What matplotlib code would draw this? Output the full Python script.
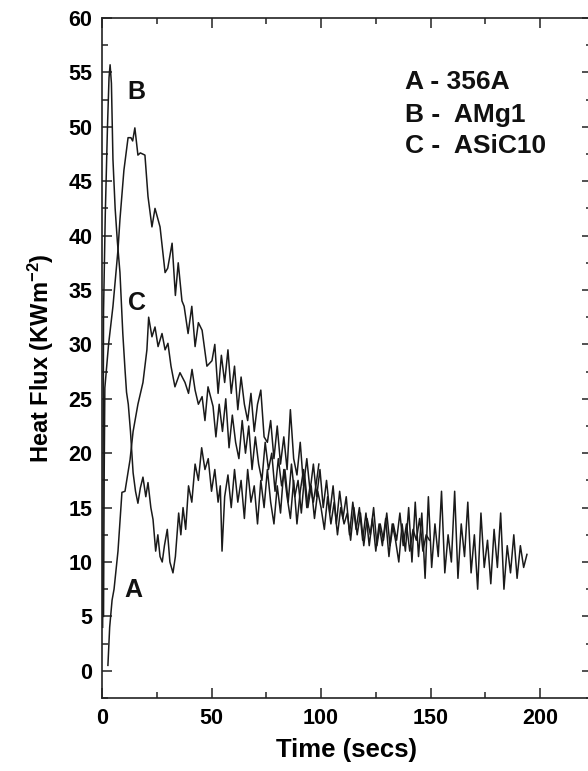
import matplotlib
matplotlib.use("Agg")
import matplotlib.pyplot as plt
from matplotlib.ticker import MultipleLocator

plt.rcParams['font.family'] = ['Liberation Sans', 'DejaVu Sans']
plt.rcParams['font.weight'] = 'bold'
plt.rcParams['mathtext.fontset'] = 'custom'
plt.rcParams['mathtext.rm'] = 'Liberation Sans:bold'
plt.rcParams['mathtext.bf'] = 'Liberation Sans:bold'
plt.rcParams['mathtext.default'] = 'bf'

# ---- data ----
# Curve with the early 55 spike
t_spike = [0.3, 0.5, 0.7, 1.5, 2.5, 3.2, 3.7, 4.3, 5.0, 6.0, 7.0, 8.2, 9.5, 10.5, 11.2, 12.0,
           13.0, 14.2, 15.3, 16.4, 17.5, 18.7, 20.0, 21.0, 22.3, 23.3, 24.5, 25.5, 26.5, 27.5,
           28.5, 29.8, 31.0, 32.4, 33.5, 35.0, 36.0, 37.0, 38.2, 39.5, 41.0, 42.5, 44.0, 45.5,
           47.0, 48.5, 50.0, 51.5, 53.0, 54.0, 54.8, 56.0, 57.5, 59.0, 60.5, 62.0, 63.5, 65.0,
           66.5, 68.0, 69.5, 71.0, 72.5, 74.0, 75.5, 77.0, 78.5, 80.0, 81.5, 83.0, 84.5, 86.0,
           87.5, 89.0, 90.5, 92.0, 93.5, 95.0, 96.5, 98.0, 99.0]
v_spike = [4.0, 18.0, 33.0, 42.0, 50.0, 54.5, 55.7, 54.0, 47.0, 42.5, 39.5, 36.6, 31.0, 27.7, 25.6, 24.5,
           22.0, 18.2, 16.5, 15.4, 16.8, 17.8, 16.0, 17.3, 15.0, 13.9, 11.0, 12.5, 10.5, 10.0,
           11.5, 13.0, 10.0, 9.0, 10.5, 14.5, 12.5, 15.0, 13.0, 17.0, 15.5, 19.0, 17.5, 20.5,
           18.5, 19.5, 16.5, 18.5, 15.5, 17.0, 11.0, 16.0, 18.0, 15.0, 18.5, 15.5, 17.5, 14.0,
           18.5, 15.5, 17.0, 13.5, 17.5, 15.0, 18.5, 15.5, 13.5, 17.0, 14.5, 18.5, 16.0, 14.0,
           17.5, 13.5, 16.5, 18.5, 15.0, 17.0, 15.5, 17.5, 19.0]

# Curve with the ~50 peak
t_b = [0.7, 1.0, 1.3, 3.0, 5.0, 7.3, 8.2, 10.0, 11.9, 13.2, 14.0, 15.0, 16.4, 17.5, 19.6, 21.0,
       22.8, 24.2, 26.5, 28.8, 30.0, 32.0, 33.5, 34.8, 36.5, 37.5, 39.3, 41.0, 42.5, 44.0, 45.7,
       47.9, 50.2, 51.5, 53.0, 54.5, 56.0, 57.5, 59.0, 60.5, 62.0, 63.5, 65.0, 66.5, 68.0, 69.5,
       71.0, 72.5, 74.0, 75.5, 77.0, 78.5, 80.0, 81.5, 83.0, 84.5, 86.0, 87.5, 89.0, 90.5, 92.0,
       93.5, 95.0, 96.5, 98.0, 99.5, 101.0, 102.5, 104.0, 105.5, 107.0, 108.5, 110.0, 111.5,
       113.0, 114.5, 116.0, 117.5, 119.0, 120.5, 122.0, 123.5, 125.0, 126.5, 128.0, 129.5,
       131.0, 132.5, 134.0, 135.5, 137.0, 138.5, 140.0, 141.5, 143.0, 144.5, 146.0, 147.5,
       149.0, 150.5, 152.0, 153.5, 155.0, 156.5, 158.0, 159.5, 161.0, 162.5, 164.0, 165.5,
       167.0, 168.5, 170.0, 171.5, 173.0, 174.5, 176.0, 177.5, 179.0, 180.5, 182.0, 183.5,
       185.0, 186.5, 188.0, 189.5, 191.0, 192.5, 194.0]
v_b = [5.0, 18.0, 26.0, 30.0, 33.5, 38.7, 41.5, 46.0, 49.0, 49.0, 48.7, 49.9, 47.4, 47.6, 47.4, 43.6,
       40.8, 42.5, 40.8, 36.6, 37.0, 39.3, 34.5, 37.5, 34.0, 33.5, 31.0, 33.5, 29.8, 32.0, 31.3,
       28.0, 28.5, 30.0, 25.5, 29.0, 26.5, 29.5, 25.5, 28.0, 24.0, 27.0, 24.5, 23.0, 25.5, 22.0,
       24.5, 25.8, 21.5, 21.0, 23.0, 19.5, 22.5, 19.0, 21.5, 18.5, 24.0, 19.5, 18.0, 21.0, 17.0,
       19.5, 16.5, 19.0, 16.0, 18.5, 15.0, 17.5, 14.5, 17.0, 13.5, 16.5, 14.0, 16.0,
       12.5, 15.5, 13.0, 15.0, 12.0, 14.5, 11.5, 14.0, 11.0, 13.5, 11.5, 14.0,
       10.5, 13.5, 12.0, 10.0, 13.5, 11.0, 15.0, 10.0, 15.5, 10.5, 14.5, 8.5,
       16.0, 9.5, 13.5, 10.5, 16.5, 9.0, 12.5, 10.0, 16.5, 8.5, 13.5, 10.5,
       15.5, 9.0, 12.5, 7.5, 14.5, 9.5, 12.0, 8.0, 13.0, 9.5, 14.5, 7.5,
       11.5, 9.0, 12.5, 8.5, 11.5, 9.5, 10.7]

# Curve starting near zero, peaking ~32.5
t_a = [2.7, 3.5, 4.6, 5.5, 7.3, 9.1, 10.5, 12.8, 14.2, 16.4, 18.7, 20.5, 21.3, 22.8, 24.2, 25.6,
       27.4, 28.8, 30.1, 31.5, 33.3, 35.6, 37.9, 39.5, 41.1, 42.5, 44.0, 45.7, 47.0, 48.4, 50.7,
       52.0, 53.5, 55.0, 56.5, 58.0, 59.5, 61.0, 62.5, 64.0, 65.5, 67.0, 68.5, 70.0, 71.5, 73.0,
       74.5, 76.0, 77.5, 79.0, 80.5, 82.0, 83.5, 85.0, 86.5, 88.0, 89.5, 91.0, 92.5, 94.0, 95.5,
       97.0, 98.5, 100.0, 101.5, 103.0, 104.5, 106.0, 107.5, 109.0, 110.5, 112.0, 113.5, 115.0,
       116.5, 118.0, 119.5, 121.0, 122.5, 124.0, 125.5, 127.0, 128.5, 130.0, 131.5, 133.0,
       134.5, 136.0, 137.5, 139.0, 140.5, 142.0, 143.5, 145.0, 146.5, 148.0, 149.5]
v_a = [0.5, 4.0, 6.5, 7.5, 11.0, 16.4, 16.5, 19.4, 22.0, 24.5, 26.5, 29.5, 32.5, 30.7, 31.6, 29.8,
       31.0, 29.5, 30.1, 28.0, 26.1, 27.4, 26.5, 25.5, 27.7, 25.8, 24.5, 25.2, 23.0, 26.1, 24.3,
       21.5, 24.5, 22.0, 25.0, 20.5, 23.5, 21.0, 19.5, 23.0, 20.0, 22.5, 18.5, 21.5, 19.0, 17.5,
       21.0, 18.5, 20.0, 16.5, 19.5, 17.0, 18.5, 15.5, 19.0, 16.0, 17.5, 14.5, 18.0, 15.0, 17.0,
       14.0, 16.5, 15.0, 13.0, 16.0, 13.5, 15.5, 12.5, 15.0, 13.5, 14.5, 12.0, 15.0,
       12.5, 14.5, 11.5, 14.0, 12.5, 15.0, 11.5, 13.5, 12.0, 14.5, 11.5, 13.5,
       12.0, 14.5, 11.5, 13.5, 11.0, 13.0, 12.0, 14.0, 11.0, 12.5, 12.0]

legend_lines = ["A - 356A", "B -  AMg1", "C -  ASiC10"]
curve_labels = ["A", "B", "C"]
label_t = [14.2, 15.8, 16.0]
label_v = [7.4, 53.2, 33.8]

x_ticks = [0, 50, 100, 150, 200]
y_ticks = [0, 5, 10, 15, 20, 25, 30, 35, 40, 45, 50, 55, 60]

# ---- figure ----
fig = plt.figure(figsize=(5.88, 7.71), dpi=100)
ax = fig.add_axes([102/588, (771-698)/771, (592-102)/588, (698-18)/771])

lc = '#1a1a1a'
for t, v in [(t_spike, v_spike), (t_b, v_b), (t_a, v_a)]:
    ax.plot(t, v, color=lc, lw=1.1)

ax.set_xlim(0, 223.7)
ax.set_ylim(-2.5, 60)
ax.set_xticks(x_ticks)
ax.set_yticks(y_ticks)
ax.xaxis.set_minor_locator(MultipleLocator(25))
ax.yaxis.set_minor_locator(MultipleLocator(2.5))
ax.tick_params(which='both', direction='in', top=True, right=True, width=1.1, color='#222')
ax.tick_params(which='major', length=7, labelsize=15.5)
ax.tick_params(which='minor', length=4)
ax.tick_params(axis='y', pad=7)
ax.tick_params(axis='x', pad=7)
for s in ax.spines.values():
    s.set_linewidth(1.2)
    s.set_color('#222')
for lab in ax.get_xticklabels() + ax.get_yticklabels():
    lab.set_fontweight('bold')

ax.set_xlabel('Time (secs)', fontsize=18.5, fontweight='bold', labelpad=7)
ax.set_ylabel('Heat Flux (KWm$^{-2}$)', fontsize=17, fontweight='bold', labelpad=9)

for s, tt, vv in zip(curve_labels, label_t, label_v):
    ax.text(tt, vv, s, fontsize=18, fontweight='bold', ha='center', va='center', color='#111')

leg_v = [54.1, 51.1, 48.2]
for s, vv in zip(legend_lines, leg_v):
    ax.text(138.4, vv, s, fontsize=19, fontweight='bold', ha='left', va='center', color='#111')

fig.savefig('out.png', dpi=100)
